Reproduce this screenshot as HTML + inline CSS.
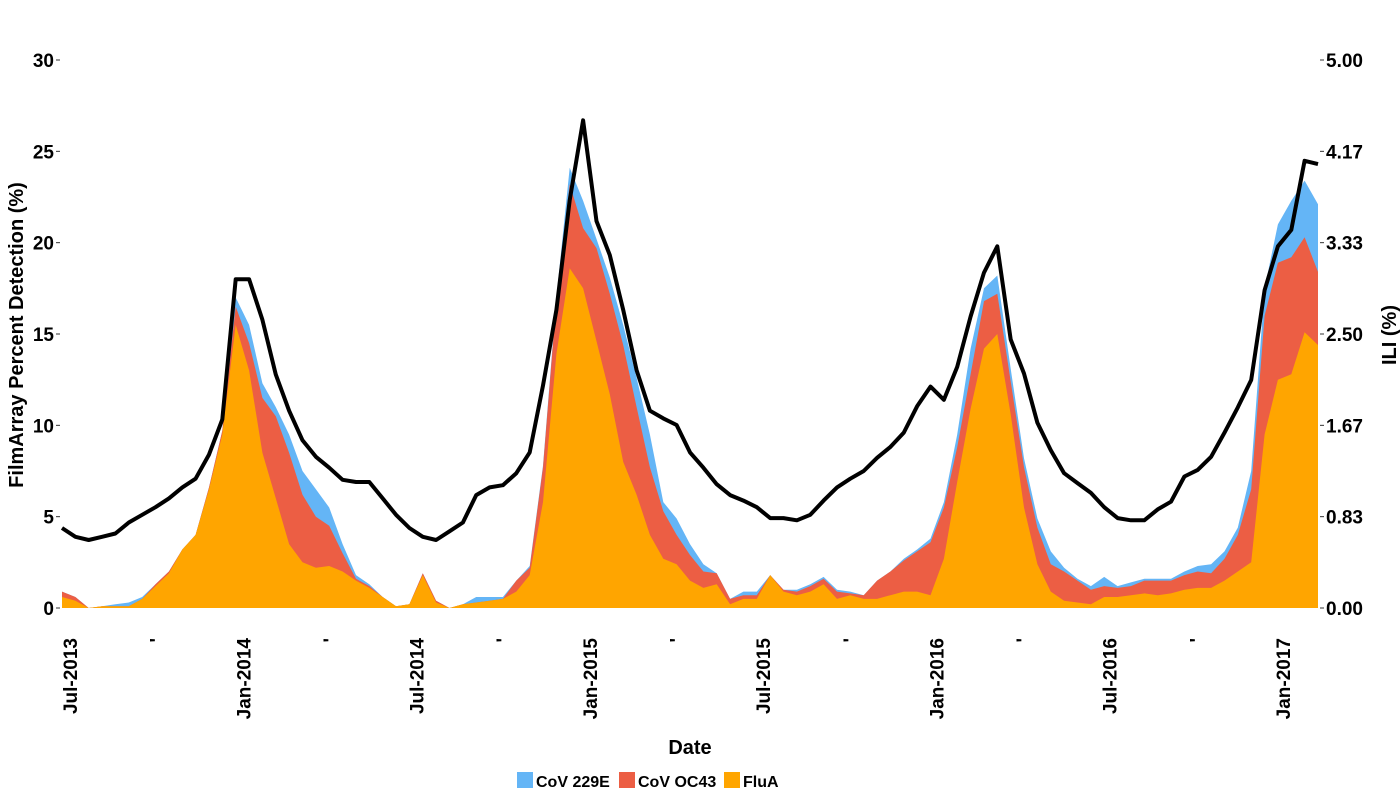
<!DOCTYPE html>
<html><head><meta charset="utf-8"><style>
html,body{margin:0;padding:0;background:#fff;}
svg{display:block;font-family:"Liberation Sans",Arial,sans-serif;font-weight:bold;}
</style></head><body>
<svg id="chart" width="1400" height="800" viewBox="0 0 1400 800" xmlns="http://www.w3.org/2000/svg">
<g id="areas"></g>
<g id="line"></g>
<g id="axes"></g>
<text x="690" y="754" font-size="20" text-anchor="middle">Date</text>
<text transform="translate(23,335) rotate(-90)" font-size="20" text-anchor="middle">FilmArray Percent Detection (%)</text>
<text transform="translate(1396,335) rotate(-90)" font-size="20" text-anchor="middle">ILI (%)</text>
<g>
<rect x="517" y="772" width="16" height="16" fill="#64b5f6"/>
<text x="536" y="787" font-size="16">CoV 229E</text>
<rect x="619" y="772" width="16" height="16" fill="#ec5e44"/>
<text x="638" y="787" font-size="16">CoV OC43</text>
<rect x="724" y="772" width="16" height="16" fill="#ffa500"/>
<text x="743" y="787" font-size="16">FluA</text>
</g>
</svg>
<script>
// biweekly samples, Jul-2013 .. Mar-2017
const fluA = [0.6,0.4,0,0.1,0.1,0.1,0.5,1.2,1.9,3.2,4.0,6.5,9.5,15.5,13.0,8.5,6.0,3.5,2.5,2.2,2.3,2.0,1.5,1.1,0.6,0.1,0.2,1.8,0.3,0.0,0.2,0.3,0.4,0.5,0.9,1.8,5.8,13.9,18.6,17.5,14.6,11.7,8.0,6.2,4.0,2.7,2.4,1.5,1.1,1.3,0.2,0.5,0.5,1.8,0.9,0.7,0.9,1.3,0.5,0.7,0.5,0.5,0.7,0.9,0.9,0.7,2.7,6.9,10.9,14.2,15.0,10.6,5.5,2.4,0.9,0.4,0.3,0.2,0.6,0.6,0.7,0.8,0.7,0.8,1.0,1.1,1.1,1.5,2.0,2.5,9.5,12.5,12.8,15.1,14.4];
const covOC43 = [0.3,0.2,0,0,0,0,0,0.1,0.1,0,0,0.1,0.2,1.0,1.5,3.0,4.5,5.0,3.7,2.8,2.2,1.0,0.1,0.1,0,0,0,0.1,0.1,0,0,0,0,0,0.6,0.4,1.9,2.9,4.6,3.3,5.1,5.5,6.4,4.8,3.7,2.6,1.6,1.4,0.9,0.6,0.3,0.2,0.2,0,0.1,0.2,0.3,0.3,0.4,0.1,0.2,1.0,1.3,1.7,2.2,2.9,2.8,1.9,1.9,2.6,2.2,1.8,2.2,2.0,1.5,1.6,1.2,0.8,0.6,0.5,0.5,0.7,0.8,0.7,0.8,0.9,0.8,1.2,2.0,4.0,6.5,6.4,6.4,5.2,4.0];
const cov229E = [0,0,0,0,0.1,0.2,0.1,0,0,0,0,0,0,0.5,1.0,0.8,0.5,1.0,1.3,1.5,1.0,0.5,0.2,0.1,0,0,0,0,0,0,0,0.3,0.2,0.1,0,0.1,0.1,0.2,0.9,1.5,0.5,0.9,1.1,1.6,1.8,0.5,0.9,0.6,0.4,0,0,0.2,0.2,0,0,0.1,0.1,0.1,0.1,0.1,0,0,0,0.1,0.1,0.2,0.3,0.7,1.4,0.7,1.0,0.7,0.5,0.5,0.7,0.2,0.1,0.2,0.5,0.1,0.2,0.1,0.1,0.1,0.2,0.3,0.5,0.4,0.4,1.0,1.5,2.1,3.1,3.1,3.7];
const ili = [0.73,0.65,0.62,0.65,0.68,0.78,0.85,0.92,1.0,1.1,1.18,1.4,1.72,3.0,3.0,2.63,2.13,1.8,1.53,1.38,1.28,1.17,1.15,1.15,1.0,0.85,0.73,0.65,0.62,0.7,0.78,1.03,1.1,1.12,1.23,1.42,2.03,2.72,3.72,4.45,3.53,3.22,2.72,2.17,1.8,1.73,1.67,1.42,1.28,1.13,1.03,0.98,0.92,0.82,0.82,0.8,0.85,0.98,1.1,1.18,1.25,1.37,1.47,1.6,1.84,2.02,1.9,2.2,2.66,3.06,3.3,2.45,2.14,1.69,1.44,1.23,1.14,1.05,0.92,0.82,0.8,0.8,0.9,0.97,1.2,1.26,1.38,1.6,1.83,2.08,2.9,3.3,3.45,4.08,4.05];
const leftTicks = [0,5,10,15,20,25,30];
const rightTicks = ["0.00","0.83","1.67","2.50","3.33","4.17","5.00"];
const xTickLabels = ["Jul-2013","'","Jan-2014","'","Jul-2014","'","Jan-2015","'","Jul-2015","'","Jan-2016","'","Jul-2016","'","Jan-2017"];

const NS="http://www.w3.org/2000/svg";
const X0=62, X1=1318, Y0=608, Y30=60;
const n=fluA.length;
const xs=i=>X0+(X1-X0)*i/(n-1);
const yL=v=>Y0-(Y0-Y30)*v/30;
const yR=v=>Y0-(Y0-Y30)*v/5;
function mk(tag,attrs,parent){const e=document.createElementNS(NS,tag);for(const k in attrs)e.setAttribute(k,attrs[k]);parent.appendChild(e);return e;}

const areas=document.getElementById('areas');
const tops=[[],[],[]];
for(let i=0;i<n;i++){const a=fluA[i],b=a+covOC43[i],c=b+cov229E[i];tops[0].push(a);tops[1].push(b);tops[2].push(c);}
function areaPath(top){let d=`M${xs(0)},${Y0}`;for(let i=0;i<n;i++)d+=` L${xs(i).toFixed(1)},${yL(top[i]).toFixed(1)}`;d+=` L${xs(n-1)},${Y0} Z`;return d;}
const p1=mk('path',{d:areaPath(tops[2]),fill:'#64b5f6'},areas);


const p2=mk('path',{d:areaPath(tops[1]),fill:'#ec5e44'},areas);


const p3=mk('path',{d:areaPath(tops[0]),fill:'#ffa500'},areas);



const lg=document.getElementById('line');
let d='';for(let i=0;i<n;i++)d+=(i?' L':'M')+xs(i).toFixed(1)+','+yR(ili[i]).toFixed(1);
const ln=mk('path',{d:d,fill:'none',stroke:'#000','stroke-width':4,'stroke-linejoin':'round'},lg);



const ax=document.getElementById('axes');
leftTicks.forEach(v=>{
  const t=mk('text',{x:54,y:yL(v)+7,'font-size':19,'text-anchor':'end'},ax);t.textContent=v;
  
  
  mk('line',{x1:56,x2:60,y1:yL(v),y2:yL(v),stroke:'#333','stroke-width':1},ax);
});
rightTicks.forEach((v,i)=>{
  const y=yR(5*i/6);
  const t=mk('text',{x:1326,y:y+7,'font-size':19,'text-anchor':'start'},ax);t.textContent=v;
  
  
  mk('line',{x1:1320,x2:1324,y1:y,y2:y,stroke:'#333','stroke-width':1},ax);
});
const xStart=70, xStep=(1283-70)/14;
xTickLabels.forEach((s,i)=>{
  const x=xStart+xStep*i;
  const t=mk('text',{transform:`translate(${x+7},638) rotate(-90)`,'font-size':19,'text-anchor':'end'},ax);t.textContent=s;
  
  
});
</script>
</body></html>
